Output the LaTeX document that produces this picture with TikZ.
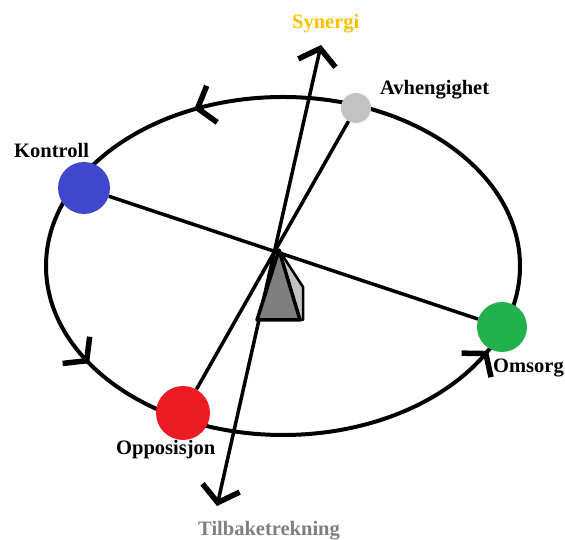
\documentclass[tikz,border=0pt]{standalone}
\usepackage{xcolor}
\usepackage{fontspec}
\setmainfont{Liberation Serif}
\usetikzlibrary{arrows.meta, positioning, decorations.markings}
\definecolor{kontrollblue}{HTML}{3F48CC}
\definecolor{omsorggreen}{HTML}{22B14C}
\definecolor{oppred}{HTML}{ED1C24}
\definecolor{avhgray}{HTML}{C3C3C3}
\definecolor{synergigold}{HTML}{FFC000}
\definecolor{tilbakegray}{HTML}{7F7F7F}

\begin{document}
\begin{tikzpicture}[
  x=1pt, y=1pt,
  barb/.tip={Straight Barb[length=15pt 0, width=38pt 0, line width=5.5pt 0]},
  dot/.style={circle, inner sep=0pt, draw=none},
  lbl/.style={anchor=base west, inner sep=0pt, font=\fontsize{20.5}{24}\selectfont\bfseries},
  spoke/.style={line width=3.5pt},
  orbit/.style={line width=4pt, postaction={decorate}, decoration={markings,
    mark=at position 0.32 with {\arrow{barb}},
    mark=at position 0.585 with {\arrow{barb}},
    mark=at position 0.928 with {\arrow{barb}}}}
]
\useasboundingbox (0,0) rectangle (565,540);

% ring
\coordinate (mid) at (283,274);
\draw[orbit] (mid) ellipse [x radius=237, y radius=169];

% points on the ring
\node[dot, minimum size=52pt, fill=kontrollblue] (kon) at (84,352) {};
\node[dot, minimum size=50pt, fill=omsorggreen] (oms) at (502,213) {};
\node[dot, minimum size=30pt, fill=avhgray] (avh) at (356,432) {};
\node[dot, minimum size=54pt, fill=oppred] (opp) at (183,127) {};

\node[lbl] (konlbl) at (14,382) {Kontroll};
\node[lbl] (omslbl) at (493,167) {Omsorg};
\node[lbl] (avhlbl) at (380,445) {Avhengighet};
\node[lbl] (opplbl) at (116,85) {Opposisjon};
\node[lbl, text=synergigold] (syn) at (292,511) {Synergi};
\node[lbl, text=tilbakegray] (tilb) at (198,4) {Tilbaketrekning};

% axis
\coordinate (syntip) at (321,495);
\coordinate (tilbtip) at (217,34);
\draw[spoke, barb-barb] (tilbtip) -- (syntip);

% spokes
\draw[spoke] (kon) -- (oms);
\draw[spoke] (opp) -- (avh);

% pyramid
\coordinate (top) at (279,290);
\coordinate (bl) at (257,220);
\coordinate (bm) at (300,220);
\coordinate (rt) at (303,253);
\coordinate (br) at (303,220);
\filldraw[fill=avhgray, line width=2.5pt, line join=round] (top) -- (rt) -- (br) -- (bm) -- cycle;
\filldraw[fill=tilbakegray, line width=3.5pt, line join=round] (top) -- (bl) -- (bm) -- cycle;
\end{tikzpicture}
\end{document}
